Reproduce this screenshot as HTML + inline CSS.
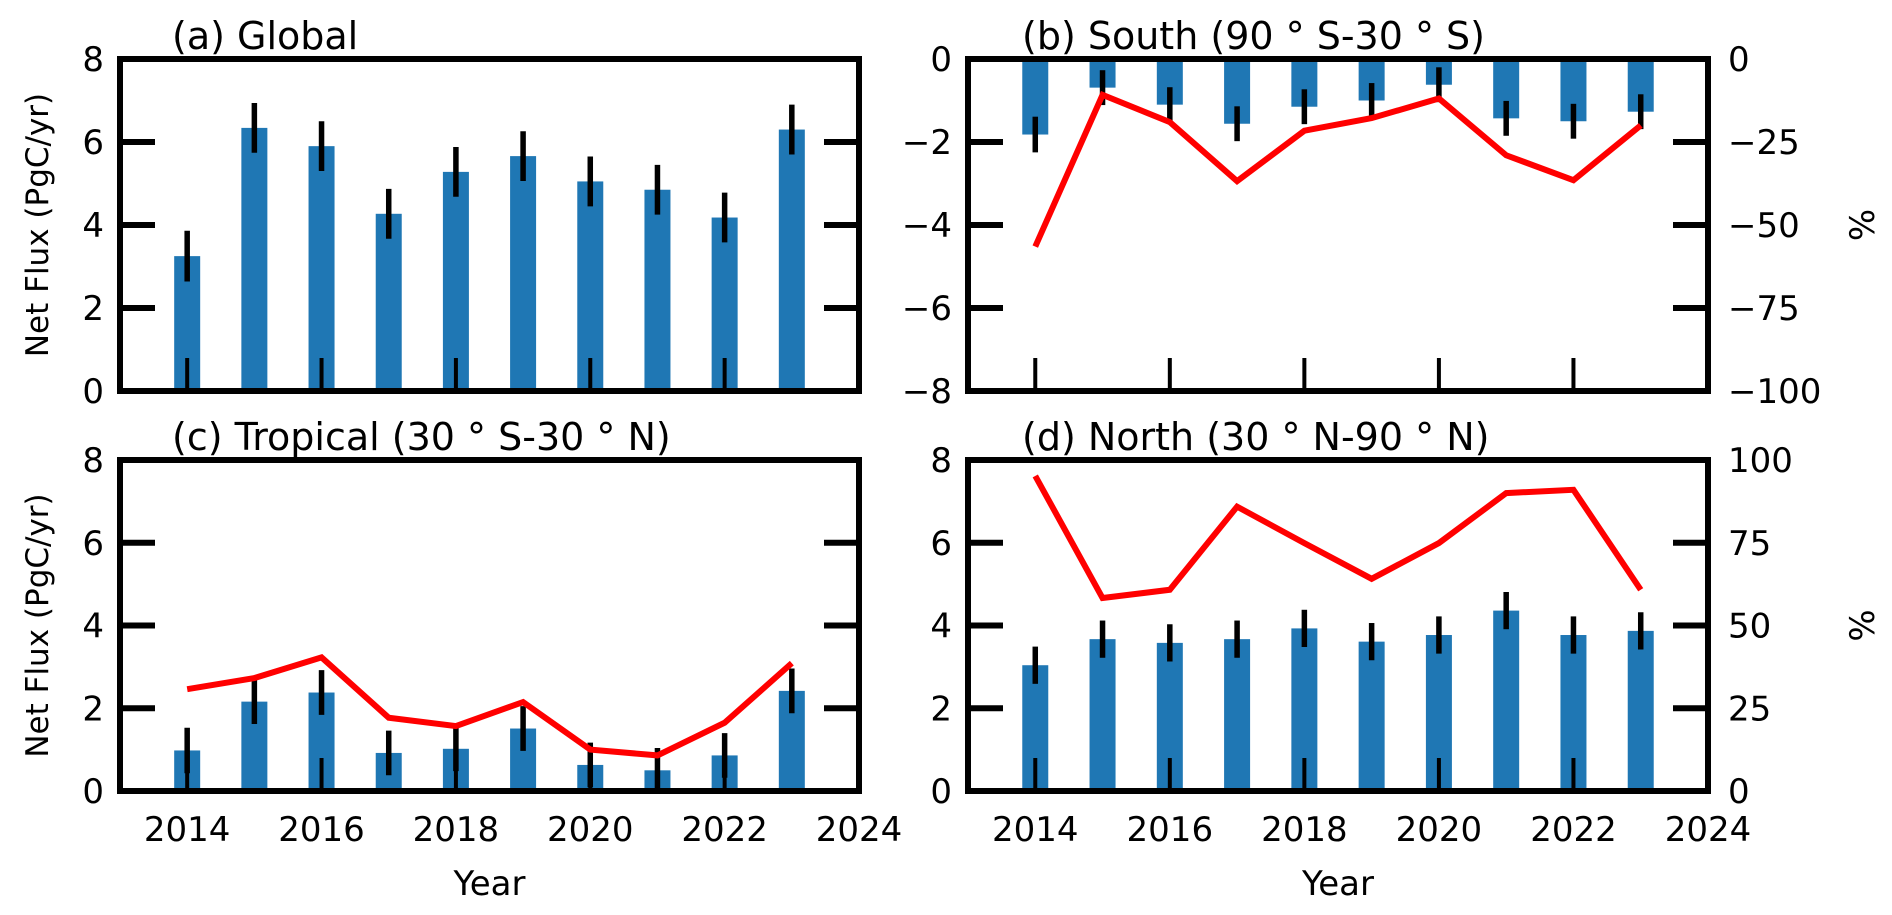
<!DOCTYPE html>
<html><head><meta charset="utf-8">
<style>
body{margin:0;background:#fff;}
svg{display:block;font-family:"DejaVu Sans","Liberation Sans",sans-serif;}
</style></head>
<body>
<svg id="chart" width="1892" height="915" viewBox="0 0 1892 915" xmlns="http://www.w3.org/2000/svg"></svg>
<script>
const years = [2014,2015,2016,2017,2018,2019,2020,2021,2022,2023];
const globalFlux = [3.25,6.34,5.9,4.27,5.28,5.66,5.05,4.85,4.18,6.3];
const globalErr = [0.61,0.6,0.6,0.6,0.6,0.6,0.6,0.6,0.6,0.6];
const southFlux = [-1.82,-0.69,-1.1,-1.56,-1.15,-1.0,-0.62,-1.43,-1.5,-1.27];
const southErr = [0.43,0.42,0.42,0.42,0.42,0.42,0.42,0.42,0.42,0.42];
const southPct = [-56.5,-10.8,-19,-36.8,-21.6,-17.8,-11.9,-29,-36.5,-20];
const tropFlux = [0.98,2.16,2.38,0.92,1.02,1.51,0.63,0.5,0.86,2.42];
const tropErr = [0.55,0.54,0.54,0.54,0.54,0.54,0.54,0.54,0.54,0.54];
const tropLine = [2.46,2.73,3.23,1.77,1.57,2.15,1.0,0.86,1.65,3.09];
const northFlux = [3.04,3.67,3.58,3.67,3.93,3.61,3.77,4.36,3.77,3.87];
const northErr = [0.45,0.45,0.45,0.45,0.45,0.45,0.45,0.45,0.45,0.45];
const northPct = [95.2,58.3,60.8,85.9,74.9,64.1,74.9,90,91,60.8];
const xTickLabels = ["2014","2016","2018","2020","2022","2024"];
const posTicks = ["0","2","4","6","8"];
const negTicks = ["−8","−6","−4","−2","0"];
const pctNegTicks = ["−100","−75","−50","−25","0"];
const pctPosTicks = ["0","25","50","75","100"];

const NS="http://www.w3.org/2000/svg";
const svg=document.getElementById('chart');
function mk(tag,attrs,parent,text){const e=document.createElementNS(NS,tag);for(const k in attrs)e.setAttribute(k,attrs[k]);if(text!==undefined)e.textContent=text;(parent||svg).appendChild(e);return e;}
const FS=34;
function panel(o){
  const g=mk('g',{});
  
  
  const L=o.L,R=o.R,T=o.T,B=o.B;
  const xs=v=>L+(v-2013)/(2024-2013)*(R-L);
  const ys=v=>B-(v-o.ymin)/(o.ymax-o.ymin)*(B-T);
  const yr=v=>B-(v-o.rmin)/(o.rmax-o.rmin)*(B-T);
  const bw=26;
  o.vals.forEach((v,i)=>{
    const x=xs(years[i]);const y0=ys(0),y1=ys(v);
    const b=mk('rect',{x:x-bw/2,y:Math.min(y0,y1),width:bw,height:Math.abs(y1-y0),fill:'#1f77b4'},g);
    
    
  });
  o.vals.forEach((v,i)=>{
    const x=xs(years[i]);
    const e=mk('line',{x1:x,x2:x,y1:ys(v-o.err[i]),y2:ys(v+o.err[i]),stroke:'#000','stroke-width':5.5},g);
    
    
  });
  if(o.line){
    const f=o.lineRight?yr:ys;
    const pts=o.line.map((v,i)=>xs(years[i])+','+f(v)).join(' ');
    const pl=mk('polyline',{points:pts,fill:'none',stroke:'#ff0000','stroke-width':6,'stroke-linejoin':'miter'},g);
    
    
  }
  xTickLabels.forEach(t=>{
    const x=xs(+t);
    const tk=mk('line',{x1:x,x2:x,y1:B,y2:B-33,stroke:'#000','stroke-width':4},g);
    
    
    if(o.xlabels){
      const tl=mk('text',{x:x,y:B+50,'font-size':FS,'text-anchor':'middle'},g,t);
      
      
    }
  });
  o.yt.forEach((t,i)=>{
    const v=o.ymin+i*(o.ymax-o.ymin)/(o.yt.length-1);const y=ys(v);
    const a=mk('line',{x1:L,x2:L+35,y1:y,y2:y,stroke:'#000','stroke-width':6},g);
    
    
    const b=mk('line',{x1:R,x2:R-35,y1:y,y2:y,stroke:'#000','stroke-width':6},g);
    
    
    const tl=mk('text',{x:L-16,y:y+12,'font-size':FS,'text-anchor':'end'},g,t);
    
    
  });
  if(o.rt){
    o.rt.forEach((t,i)=>{
      const v=o.rmin+i*(o.rmax-o.rmin)/(o.rt.length-1);const y=yr(v);
      const tl=mk('text',{x:R+20,y:y+12,'font-size':FS,'text-anchor':'start'},g,t);
      
      
    });
    const rl=mk('text',{x:0,y:0,'font-size':FS,'text-anchor':'middle',transform:`translate(${R+166},${(T+B)/2}) rotate(-90)`},g,'%');
    
    
  }
  const fr=mk('rect',{x:L,y:T,width:R-L,height:B-T,fill:'none',stroke:'#000','stroke-width':6},g);
  
  
  const ti=mk('text',{x:o.tx,y:T-10,'font-size':38},g,o.title);
  
  
  if(o.ylab){
    const yl=mk('text',{x:0,y:0,'font-size':31,'text-anchor':'middle',transform:`translate(48,${(T+B)/2}) rotate(-90)`},g,'Net Flux (PgC/yr)');
    
    
  }
  if(o.xlabels){
    const xl=mk('text',{x:(L+R)/2,y:B+104,'font-size':FS,'text-anchor':'middle'},g,'Year');
    
    
  }
}
panel({name:'panel-global',L:120,R:859,T:59,B:391,ymin:0,ymax:8,vals:globalFlux,err:globalErr,yt:posTicks,title:'(a) Global',tx:172,ylab:true});
panel({name:'panel-south',L:968,R:1708,T:59,B:391,ymin:-8,ymax:0,vals:southFlux,err:southErr,yt:negTicks,line:southPct,lineRight:true,rmin:-100,rmax:0,rt:pctNegTicks,title:'(b) South (90 ° S-30 ° S)',tx:1022});
panel({name:'panel-tropical',L:120,R:859,T:460,B:791,ymin:0,ymax:8,vals:tropFlux,err:tropErr,yt:posTicks,line:tropLine,title:'(c) Tropical (30 ° S-30 ° N)',tx:172,ylab:true,xlabels:true});
panel({name:'panel-north',L:968,R:1708,T:460,B:791,ymin:0,ymax:8,vals:northFlux,err:northErr,yt:posTicks,line:northPct,lineRight:true,rmin:0,rmax:100,rt:pctPosTicks,title:'(d) North (30 ° N-90 ° N)',tx:1022,xlabels:true});
</script>
</body></html>
